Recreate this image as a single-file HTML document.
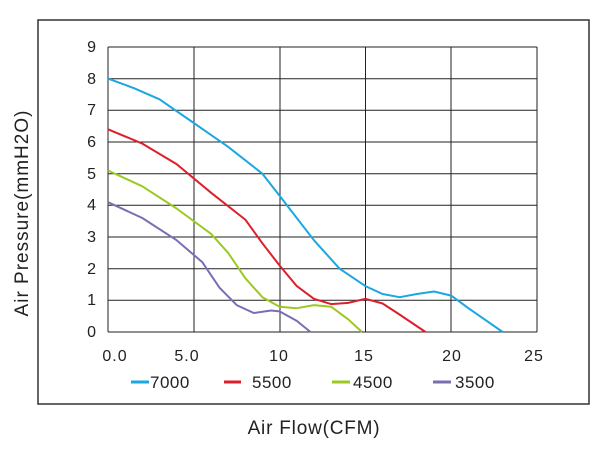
<!DOCTYPE html>
<html><head><style>body{margin:0;background:#fff}</style></head><body>
<svg width="600" height="450" viewBox="0 0 600 450" xmlns="http://www.w3.org/2000/svg" font-family="Liberation Sans, sans-serif">
<rect x="38" y="20" width="551" height="384" fill="none" stroke="#333" stroke-width="1.5"/>
<g stroke="#222" stroke-width="1">
<line x1="108" y1="47" x2="537" y2="47"/><line x1="108" y1="78.7" x2="537" y2="78.7"/><line x1="108" y1="110.3" x2="537" y2="110.3"/><line x1="108" y1="142" x2="537" y2="142"/><line x1="108" y1="173.7" x2="537" y2="173.7"/><line x1="108" y1="205.3" x2="537" y2="205.3"/><line x1="108" y1="237" x2="537" y2="237"/><line x1="108" y1="268.7" x2="537" y2="268.7"/><line x1="108" y1="300.3" x2="537" y2="300.3"/><line x1="108" y1="332" x2="537" y2="332"/>
<line x1="108" y1="47" x2="108" y2="332"/><line x1="194" y1="47" x2="194" y2="332"/><line x1="280" y1="47" x2="280" y2="332"/><line x1="365.5" y1="47" x2="365.5" y2="332"/><line x1="451" y1="47" x2="451" y2="332"/><line x1="537" y1="47" x2="537" y2="332"/>
</g>
<g font-size="16" fill="#222" text-anchor="end">
<text x="96" y="52">9</text><text x="96" y="84">8</text><text x="96" y="115">7</text><text x="96" y="147">6</text><text x="96" y="179">5</text><text x="96" y="210">4</text><text x="96" y="242">3</text><text x="96" y="274">2</text><text x="96" y="305">1</text><text x="96" y="337">0</text>
</g>
<g font-size="16" fill="#222" text-anchor="middle" letter-spacing="1">
<text x="115" y="361">0.0</text><text x="187" y="361">5.0</text><text x="279" y="361">10</text><text x="364" y="361">15</text><text x="452" y="361">20</text><text x="534" y="361">25</text>
</g>
<g fill="none" stroke-width="2" stroke-linejoin="round">
<polyline stroke="#1ba7e0" points="108,78.6 133.7,88.1 159.5,99.3 193.8,123 228.1,146.8 262.4,173.7 279.6,195.8 313.9,240.2 339.6,268.7 365.4,286.1 382.6,294 399.7,297.2 416.9,294 434,291.5 451.2,295.6 468.4,308.2 502.7,332"/>
<polyline stroke="#dc1f2b" points="108,129.3 142.3,143.6 176.6,164.1 211,192.7 245.3,219.6 262.4,243.3 279.6,265.5 296.8,286.1 313.9,298.8 331.1,304.1 348.2,302.9 365.4,298.8 382.6,303.5 399.7,314.6 425.5,332"/>
<polyline stroke="#9bc922" points="108,170.5 142.3,186.3 176.6,208.5 211,233.8 228.1,252.8 245.3,278.2 262.4,297.2 279.6,306.7 296.8,308.2 313.9,305.1 331.1,306.7 348.2,319.3 362,332"/>
<polyline stroke="#7b6db3" points="108,202.2 142.3,218 176.6,240.2 202.4,262.3 219.5,287.7 236.7,305.1 253.8,313 271,310.5 279.6,311.4 296.8,320.9 310.5,332"/>
</g>
<g stroke-width="3">
<line x1="131" y1="382" x2="149" y2="382" stroke="#1ba7e0"/>
<line x1="224" y1="382" x2="241" y2="382" stroke="#dc1f2b"/>
<line x1="332" y1="382" x2="350" y2="382" stroke="#9bc922"/>
<line x1="433" y1="382" x2="451" y2="382" stroke="#7b6db3"/>
</g>
<g font-size="17" fill="#222" letter-spacing="0.5">
<text x="150" y="388">7000</text><text x="252" y="388">5500</text><text x="353" y="388">4500</text><text x="455" y="388">3500</text>
</g>
<text x="314" y="434" font-size="19" fill="#222" text-anchor="middle" letter-spacing="0.8">Air Flow(CFM)</text>
<text transform="translate(28,213) rotate(-90)" font-size="19" fill="#222" text-anchor="middle" letter-spacing="1">Air Pressure(mmH2O)</text>
</svg>
</body></html>
